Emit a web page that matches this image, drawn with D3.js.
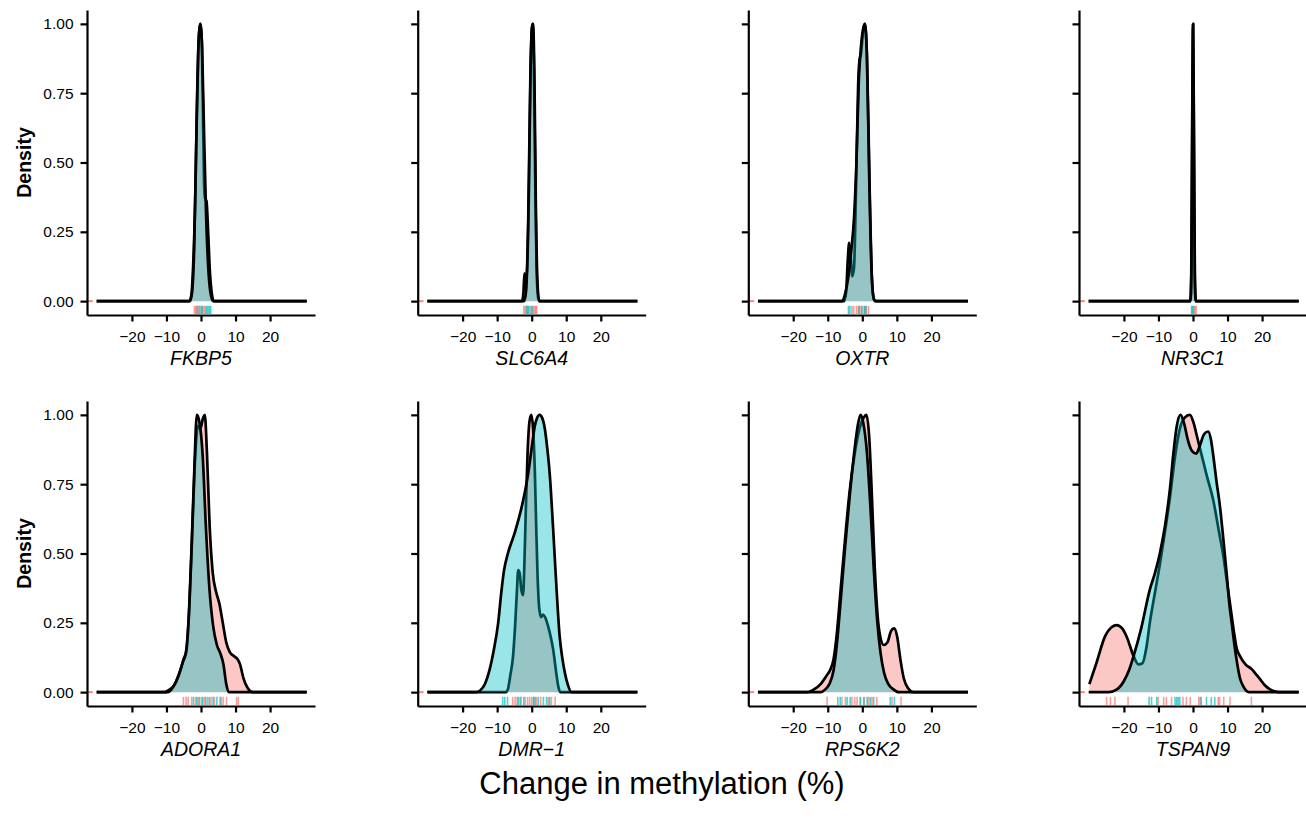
<!DOCTYPE html>
<html>
<head>
<meta charset="utf-8">
<script src="https://cdn.jsdelivr.net/npm/d3@7"></script>
<style>
body { margin: 0; background: #fff; }
svg { display: block; font-family: "Liberation Sans", Arial, Helvetica, sans-serif; }
</style>
</head>
<body>
<svg id="chart" width="1306" height="827"></svg>
<script>
// panel names and ticks
var genes = ["FKBP5", "SLC6A4", "OXTR", "NR3C1", "ADORA1", "DMR\u22121", "RPS6K2", "TSPAN9"];
var xTicks = [-20, -10, 0, 10, 20];
var yTicks = [0, 0.25, 0.5, 0.75, 1];
var stubX = [-32.9, -31.3];

// scaled density curves, [change, density]
var fkbp5Red = [[-30.2,0],[-3.4,0],[-2.8,0.02],[-2.3,0.12],[-1.7,0.35],[-1.1,0.75],[-0.6,0.96],[-0.2,1],[0.2,0.95],[0.5,0.75],[0.9,0.42],[1.2,0.37],[1.6,0.36],[2.1,0.24],[2.6,0.1],[3.1,0.03],[3.7,0],[30.6,0]];
var fkbp5Cyan = [[-30.2,0],[-3.2,0],[-2.6,0.03],[-2.0,0.18],[-1.4,0.55],[-0.8,0.9],[-0.2,1],[0.3,0.92],[0.9,0.6],[1.5,0.3],[2.2,0.1],[2.9,0.02],[3.6,0],[30.6,0]];
var slc6a4Red = [[-30.2,0],[-2.8,0],[-2.4,0.03],[-2.1,0.1],[-1.8,0.06],[-1.3,0.12],[-0.8,0.4],[-0.3,0.85],[0.2,1],[0.6,0.88],[1.0,0.45],[1.4,0.12],[1.9,0.01],[2.3,0],[30.6,0]];
var slc6a4Cyan = [[-30.2,0],[-2.2,0],[-1.6,0.04],[-1.0,0.3],[-0.4,0.8],[0.1,0.99],[0.4,1],[0.8,0.8],[1.2,0.35],[1.7,0.06],[2.2,0],[30.6,0]];
var oxtrRed = [[-30.2,0],[-5.3,0],[-4.7,0.03],[-4.2,0.15],[-3.8,0.21],[-3.4,0.17],[-2.9,0.09],[-2.4,0.12],[-1.8,0.42],[-1.2,0.78],[-0.8,0.87],[-0.4,0.89],[0.2,0.97],[0.8,1],[1.4,0.86],[2.1,0.42],[2.8,0.08],[3.4,0.005],[3.9,0],[30.6,0]];
var oxtrCyan = [[-30.2,0],[-5.8,0],[-4.9,0.03],[-4.0,0.09],[-3.2,0.18],[-2.4,0.3],[-1.7,0.5],[-1.0,0.8],[-0.5,0.9],[0.2,0.98],[0.7,1],[1.3,0.9],[2.0,0.45],[2.7,0.1],[3.3,0.01],[3.8,0],[30.6,0]];
var nr3c1Red = [[-30.2,0],[-0.8,0],[-0.5,0.1],[-0.25,0.6],[0,1],[0.25,0.6],[0.5,0.1],[0.8,0],[30.6,0]];
var nr3c1Cyan = [[-30.2,0],[-0.7,0],[-0.45,0.12],[-0.2,0.65],[0.05,1],[0.3,0.55],[0.55,0.08],[0.8,0],[30.6,0]];
var adora1Red = [[-30.2,0],[-10.5,0],[-9,0.01],[-7.5,0.03],[-6.2,0.07],[-5,0.12],[-4.2,0.15],[-3.4,0.3],[-2.6,0.55],[-1.8,0.82],[-0.9,0.96],[-0.2,0.95],[0.6,0.99],[1.1,1],[1.7,0.87],[2.5,0.6],[3.4,0.43],[4.4,0.36],[5.3,0.32],[6.3,0.25],[7.3,0.18],[8.3,0.145],[9.5,0.13],[10.5,0.12],[11.3,0.1],[12.3,0.05],[13.5,0.015],[15,0],[30.6,0]];
var adora1Cyan = [[-30.2,0],[-9.5,0],[-8,0.02],[-6.5,0.06],[-5.2,0.11],[-4.4,0.14],[-3.6,0.26],[-2.8,0.5],[-2,0.78],[-1.2,1],[-0.4,0.97],[0.5,0.85],[1.4,0.6],[2.4,0.38],[3.5,0.24],[4.6,0.17],[5.6,0.14],[6.5,0.1],[7.3,0.03],[8,0],[30.6,0]];
var dmr1Red = [[-30.2,0],[-7.5,0],[-6.9,0.01],[-6.2,0.06],[-5.4,0.13],[-4.8,0.24],[-4.3,0.36],[-3.9,0.44],[-3.5,0.43],[-3.0,0.37],[-2.5,0.35],[-2.1,0.47],[-1.7,0.66],[-1.2,0.86],[-0.6,0.98],[-0.1,1],[0.4,0.95],[0.9,0.8],[1.3,0.6],[1.7,0.42],[2.2,0.3],[2.7,0.27],[3.3,0.28],[3.9,0.27],[4.7,0.24],[5.5,0.2],[6.2,0.155],[7.1,0.07],[7.7,0.02],[8.3,0],[30.6,0]];
var dmr1Cyan = [[-30.2,0],[-16,0],[-15,0.005],[-13.5,0.03],[-12.2,0.08],[-11,0.15],[-9.7,0.25],[-8.8,0.36],[-8.0,0.44],[-6.9,0.5],[-4.9,0.575],[-2.5,0.69],[-1,0.79],[0.2,0.9],[0.9,0.96],[1.6,0.99],[2.3,1],[3.0,0.99],[3.8,0.95],[4.5,0.88],[5.2,0.79],[6.2,0.59],[7.2,0.37],[8.1,0.2],[8.9,0.12],[9.6,0.07],[10.5,0.025],[11.5,0],[30.6,0]];
var rps6k2Red = [[-30.2,0],[-16,0],[-14,0.01],[-12,0.03],[-10.3,0.06],[-9.3,0.08],[-8.3,0.12],[-7.3,0.22],[-6.2,0.38],[-5,0.55],[-3.7,0.72],[-2.2,0.86],[-0.8,0.95],[0.4,0.99],[1.2,1],[2,0.92],[2.8,0.7],[3.6,0.45],[4.4,0.28],[5.2,0.2],[6.2,0.17],[7.3,0.18],[8.3,0.22],[9.2,0.23],[10.1,0.2],[11,0.12],[12,0.05],[13.2,0.015],[14.8,0],[30.6,0]];
var rps6k2Cyan = [[-30.2,0],[-12,0],[-10.7,0.01],[-9.5,0.03],[-8.3,0.08],[-7.3,0.18],[-6.2,0.34],[-5,0.52],[-3.7,0.7],[-2.2,0.88],[-1.2,0.97],[-0.5,1],[0.3,0.97],[1.3,0.87],[2.3,0.68],[3.3,0.45],[4.3,0.26],[5.3,0.14],[6.3,0.07],[7.5,0.03],[9,0.01],[10.5,0],[30.6,0]];
var tspan9Red = [[-30,0.029],[-27.9,0.107],[-25.5,0.2],[-23.5,0.235],[-22.1,0.242],[-20.5,0.23],[-19.2,0.2],[-17.2,0.13],[-15.8,0.1],[-14.6,0.105],[-13.5,0.16],[-12.5,0.25],[-11,0.36],[-9.6,0.46],[-8.1,0.58],[-6.7,0.7],[-5.2,0.85],[-3.8,0.95],[-2.4,0.99],[-0.9,1],[0.2,0.97],[1.2,0.92],[2.2,0.87],[4,0.78],[5.9,0.69],[7.5,0.58],[8.8,0.49],[9.8,0.4],[10.7,0.32],[11.7,0.23],[12.6,0.16],[13.6,0.13],[15.2,0.1],[17,0.083],[18.2,0.065],[19.4,0.047],[20.8,0.025],[22.3,0.01],[24,0.002],[25.2,0],[30.6,0]];
var tspan9Cyan = [[-30.2,0],[-24.5,0],[-22,0.01],[-20,0.04],[-18.5,0.08],[-17.2,0.13],[-15,0.23],[-12.5,0.37],[-11,0.43],[-9.6,0.5],[-8.1,0.6],[-6.7,0.73],[-5.6,0.87],[-4.7,0.96],[-3.6,1],[-2.6,0.97],[-1.5,0.91],[-0.3,0.87],[0.9,0.86],[2,0.89],[3.2,0.93],[4.4,0.94],[5.2,0.91],[5.9,0.85],[6.8,0.76],[7.8,0.67],[8.8,0.55],[9.8,0.42],[10.5,0.32],[11.2,0.25],[12,0.17],[12.7,0.11],[13.6,0.05],[14.6,0.02],[16.2,0],[30.6,0]];

// rug values
var fkbp5RugR = [-1.9,-1.5,-1.2,-0.6,0.1,0.5,0.9,1.3];
var fkbp5RugC = [-1.0,-0.3,0.3,1.6,2.0,2.4,2.8];
var slc6a4RugR = [-2.3,-1.9,-1.6,-0.5,0.2,0.9,1.2,1.4];
var slc6a4RugC = [-1.4,-1.1,-0.9,-0.1,0.4];
var oxtrRugR = [-3.0,-2.5,-1.7,-1.2,-0.7,-0.2,0.6,1.2,1.8];
var oxtrRugC = [-4.0,-3.6,-0.9,-0.1,0.6,1.0];
var nr3c1RugR = [0.3,0.6,0.9];
var nr3c1RugC = [-0.4,-0.2,0.1];
var adora1RugR = [-5.1,-4.3,-3.7,-2.7,-1.6,-0.8,0.2,1.0,1.9,2.9,3.9,5.5,6.4,7.4,10.3,10.8];
var adora1RugC = [-2.2,-1.2,-0.4,0.5,1.4,2.4,3.5,4.6,5.8];
var dmr1RugR = [-5.5,-4.8,-4.2,-3.4,-1.9,-1.2,-0.6,0,0.6,1.4,2.6,4.8,5.7,6.8];
var dmr1RugC = [-8.4,-7.8,-7.0,-3.9,-3.1,-2.3,0.5,1.0,1.9,3.4,4.3,5.2];
var rps6k2RugR = [-10.2,-5.9,-4.9,-3.0,-2.2,-1.5,-0.5,0.6,1.8,2.8,4.2,8.6,11.2];
var rps6k2RugC = [-7.1,-6.4,-4.4,-3.5,-0.6,0.4,1.4,2.3,3.3,8.1,9.3];
var tspan9RugR = [-25,-23.9,-22.6,-18.8,-10.1,-8.5,-7.7,-6.2,-2.9,-1.9,-0.8,1.7,2.1,7.3,7.7,8.9,10.7,16.9];
var tspan9RugC = [-12.7,-12,-10.5,-5.2,-4.7,-4.3,-3.8,2.4,3.9,5.3,6.3];

var redCurves = [fkbp5Red, slc6a4Red, oxtrRed, nr3c1Red, adora1Red, dmr1Red, rps6k2Red, tspan9Red];
var cyanCurves = [fkbp5Cyan, slc6a4Cyan, oxtrCyan, nr3c1Cyan, adora1Cyan, dmr1Cyan, rps6k2Cyan, tspan9Cyan];
var redRugs = [fkbp5RugR, slc6a4RugR, oxtrRugR, nr3c1RugR, adora1RugR, dmr1RugR, rps6k2RugR, tspan9RugR];
var cyanRugs = [fkbp5RugC, slc6a4RugC, oxtrRugC, nr3c1RugC, adora1RugC, dmr1RugC, rps6k2RugC, tspan9RugC];

var red = "#F8766D", cyan = "#00BFC4";

var svg = d3.select("#chart");
var pw = 228, ph = 305;
var colLeft = [87, 417.7, 748.3, 1079];
var rowTop = [10, 401];

var x = d3.scaleLinear().domain([-33, 33]).range([0, pw]);
var y = d3.scaleLinear().domain([-0.05, 1.05]).range([ph, 0]);

var area = d3.area()
    .x(function (d) { return x(d[0]); })
    .y0(y(0))
    .y1(function (d) { return y(d[1]); })
    .curve(d3.curveMonotoneX);
var line = d3.line()
    .x(function (d) { return x(d[0]); })
    .y(function (d) { return y(d[1]); })
    .curve(d3.curveMonotoneX);

genes.forEach(function (g, i) {
    var col = i % 4, row = Math.floor(i / 4);
    var p = svg.append("g")
        .attr("transform", "translate(" + colLeft[col] + "," + rowTop[row] + ")");

    // little red stub at the left end of the baseline
    p.append("line")
        .attr("x1", x(stubX[0])).attr("x2", x(stubX[1]))
        .attr("y1", y(0)).attr("y2", y(0))
        .attr("stroke", red).attr("stroke-width", 2).attr("opacity", 0.85);

    // red group first, then cyan on top
    [[redCurves[i], red], [cyanCurves[i], cyan]].forEach(function (s) {
        p.append("path").attr("d", area(s[0]))
            .attr("fill", s[1]).attr("fill-opacity", 0.4);
        p.append("path").attr("d", line(s[0]))
            .attr("fill", "none").attr("stroke", "black")
            .attr("stroke-width", 2.7).attr("stroke-linejoin", "round");
    });

    // rugs
    [[redRugs[i], red], [cyanRugs[i], cyan]].forEach(function (s) {
        p.selectAll(null).data(s[0]).enter().append("line")
            .attr("x1", function (d) { return x(d); })
            .attr("x2", function (d) { return x(d); })
            .attr("y1", ph - 0.03 * ph).attr("y2", ph - 1)
            .attr("stroke", s[1]).attr("stroke-width", 1.6).attr("opacity", 0.7);
    });

    // axes
    var xa = p.append("g").attr("transform", "translate(0," + ph + ")")
        .call(d3.axisBottom(x).tickValues(xTicks).tickSize(6.5).tickSizeOuter(0).tickPadding(9));
    var ya = p.append("g")
        .call(d3.axisLeft(y).tickValues(yTicks).tickSize(6.5).tickSizeOuter(0).tickPadding(7)
            .tickFormat(col === 0 ? d3.format(".2f") : function () { return ""; }));
    [xa, ya].forEach(function (a) {
        a.select(".domain").attr("stroke", "black").attr("stroke-width", 2.2);
        a.selectAll(".tick line").attr("stroke", "black").attr("stroke-width", 2.2);
        a.selectAll(".tick text").attr("fill", "black").style("font-size", "15.5px")
            .style("font-family", "'Liberation Sans', Arial, sans-serif");
    });

    // gene name under each panel
    p.append("text")
        .attr("x", x(0)).attr("y", ph + 50)
        .attr("text-anchor", "middle")
        .style("font-size", "19.5px").style("font-style", "italic")
        .text(g);

    if (col === 0) {
        p.append("text")
            .attr("transform", "translate(" + (-56) + "," + (ph / 2) + ") rotate(-90)")
            .attr("text-anchor", "middle")
            .style("font-size", "19.5px").style("font-weight", "bold")
            .text("Density");
    }
});

svg.append("text")
    .attr("x", 662).attr("y", 794)
    .attr("text-anchor", "middle")
    .style("font-size", "31px")
    .text("Change in methylation (%)");
</script>
</body>
</html>
